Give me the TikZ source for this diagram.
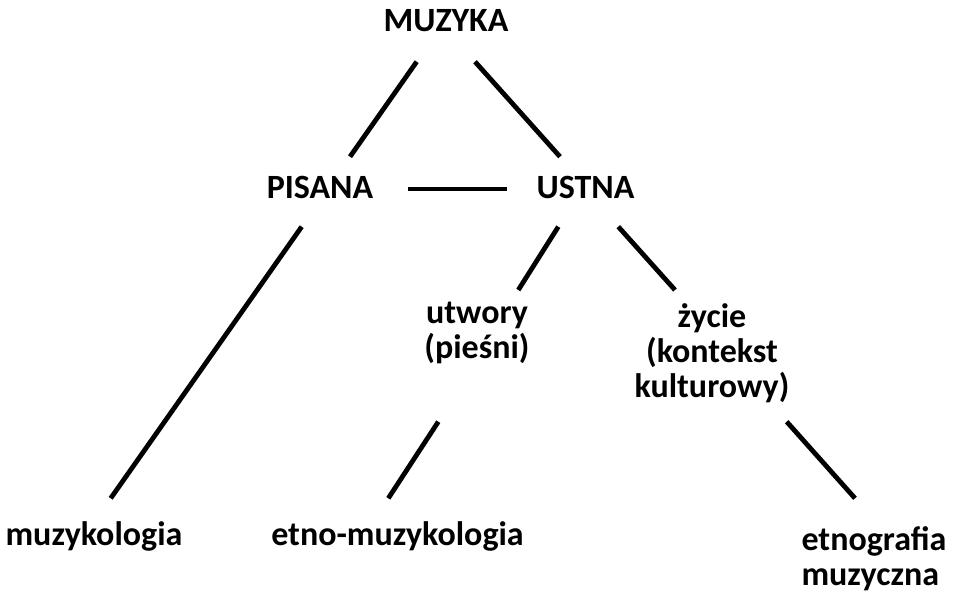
\documentclass[tikz,border=0pt]{standalone}
\usepackage{fontspec}
\setmainfont{Carlito}
\usetikzlibrary{calc}
\begin{document}
\begin{tikzpicture}[x=1pt,y=-1pt,
  lbl/.style={font=\bfseries\fontsize{34}{35}\selectfont, inner sep=0pt, anchor=base, align=center},
  conn/.style={line width=4.8pt}]
\useasboundingbox (0,0) rectangle (953,593);
\node[lbl] (muzyka) at (446,31.7) {MUZYKA};
\node[lbl] (pisana) at (320,198.3) {PISANA};
\node[lbl] (ustna) at (585.5,198.3) {USTNA};
\node[lbl] (utwory) at (477,359) {utwory\\(pieśni)};
\node[lbl] (zycie) at (712,397) {życie\\(kontekst\\kulturowy)};
\node[lbl] (muzykologia) at (94,545) {muzykologia};
\node[lbl] (etnomuz) at (397.5,545) {etno-muzykologia};
\node[lbl, align=left] (etnografia) at (874,585) {etnografia\\muzyczna};
% connectors
\draw[conn] ($(muzyka.base)+(-29.3,30)$) -- ($(pisana.base)+(30,-41.6)$);
\draw[conn] ($(muzyka.base)+(29,30)$) -- ($(ustna.base)+(-25.5,-41.6)$);
\draw[conn] ($(pisana.base)+(88,-9.3)$) -- ($(ustna.base)+(-78.5,-9.3)$);
\draw[conn] ($(pisana.base)+(-18.3,28.4)$) -- ($(muzykologia.base)+(16.7,-46.7)$);
\draw[conn] ($(ustna.base)+(-27.2,28.4)$) -- ($(utwory.base)+(41.3,-69)$);
\draw[conn] ($(ustna.base)+(32.8,28.4)$) -- ($(zycie.base)+(-37,-107)$);
\draw[conn] ($(utwory.base)+(-38.7,62.7)$) -- ($(etnomuz.base)+(-9.2,-46.7)$);
\draw[conn] ($(zycie.base)+(74.7,24.7)$) -- ($(etnografia.base)+(-19,-86.7)$);
\end{tikzpicture}
\end{document}
